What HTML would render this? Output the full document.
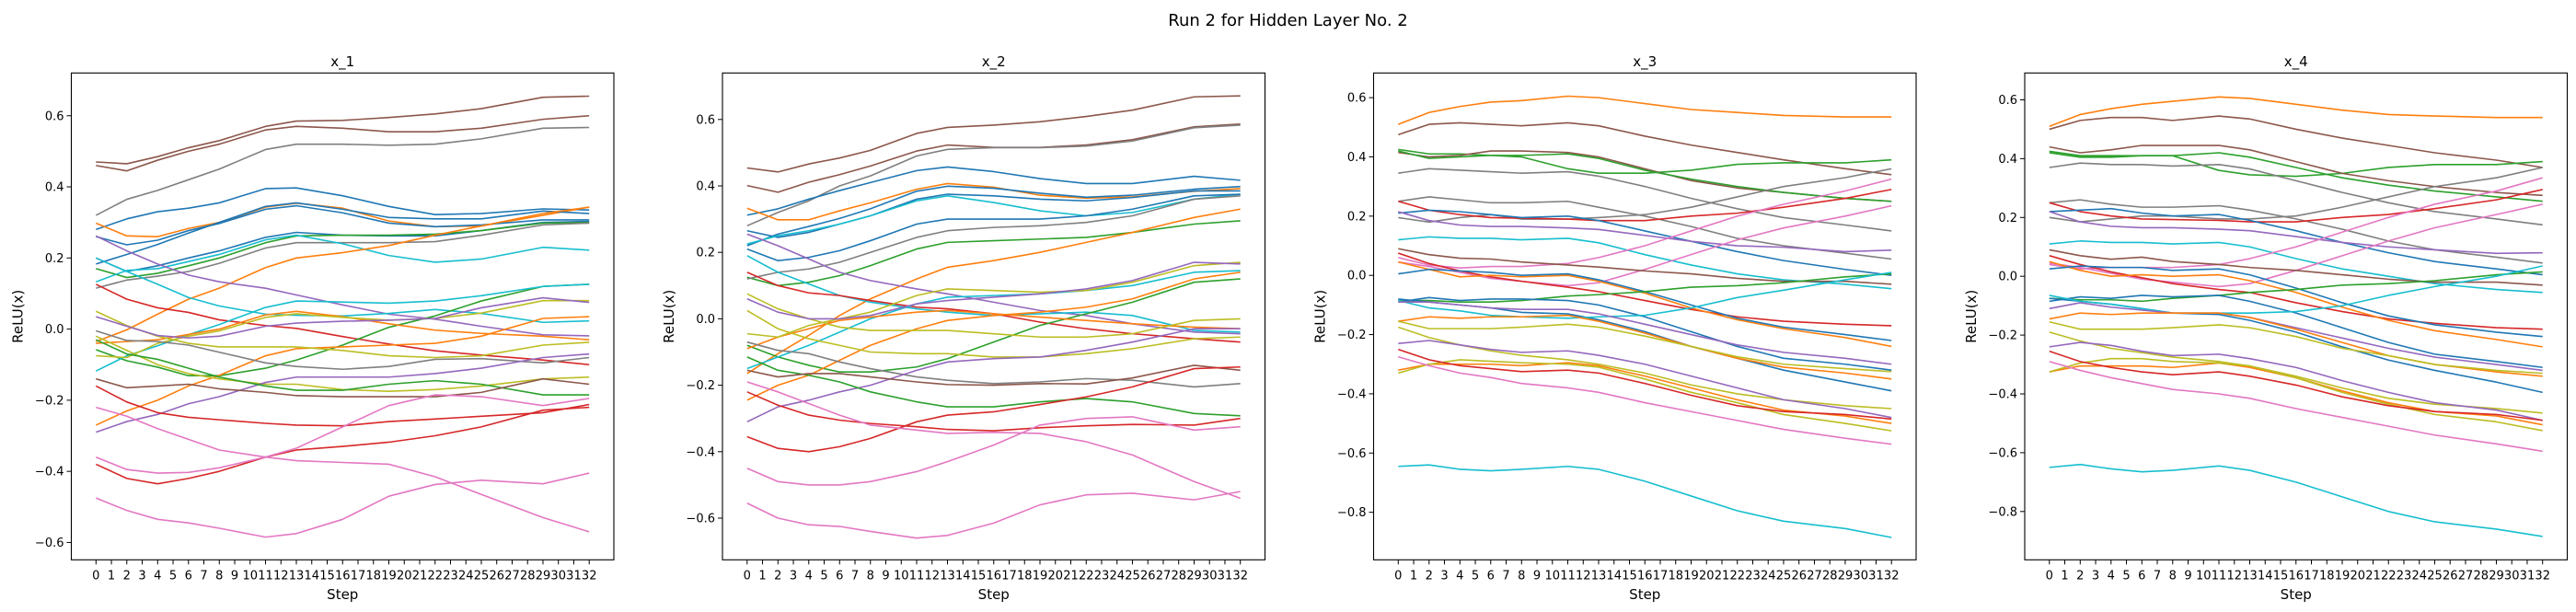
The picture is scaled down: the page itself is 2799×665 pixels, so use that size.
<!DOCTYPE html>
<html><head><meta charset="utf-8">
<style>
html,body{margin:0;padding:0;background:#fff;}
svg{display:block;font-family:"DejaVu Sans","Liberation Sans",sans-serif;}
</style></head>
<body>
<svg id="fig" width="2799" height="665" viewBox="0 0 2799 665" xmlns="http://www.w3.org/2000/svg">
<rect width="2799" height="665" fill="#fff"/>
<text x="1399.5" y="28" font-size="18" text-anchor="middle" fill="#000">Run 2 for Hidden Layer No. 2</text>
</svg>
<script>
const steps = [0,2,4,6,8,11,13,16,19,22,25,29,32];
const tickSteps = Array.from({length:33},(_,i)=>i);
const panelTitles = ["x_1","x_2","x_3","x_4"];
const yTicksA = [-0.6,-0.4,-0.2,0.0,0.2,0.4,0.6];
const yTicksB = [-0.8,-0.6,-0.4,-0.2,0.0,0.2,0.4,0.6];

const p1Colors = ["#8c564b","#8c564b","#7f7f7f","#1f77b4","#ff7f0e","#1f77b4","#1f77b4","#1f77b4","#2ca02c","#7f7f7f","#17becf","#ff7f0e","#9467bd","#17becf","#d62728","#2ca02c","#17becf","#ff7f0e","#ff7f0e","#bcbd22","#bcbd22","#bcbd22","#7f7f7f","#9467bd","#9467bd","#2ca02c","#8c564b","#d62728","#d62728","#e377c2","#e377c2","#e377c2"];
const p1Values = [
[.47,.465,.485,.51,.53,.57,.585,.587,.595,.605,.62,.652,.655],
[.46,.445,.475,.5,.52,.56,.57,.565,.555,.555,.565,.59,.60],
[.32,.365,.39,.42,.45,.505,.52,.52,.517,.52,.535,.565,.567],
[.28,.31,.33,.34,.355,.395,.397,.375,.345,.322,.325,.338,.335],
[.298,.262,.26,.283,.30,.343,.354,.34,.304,.288,.29,.32,.343],
[.183,.21,.238,.27,.30,.345,.355,.337,.314,.31,.31,.332,.325],
[.26,.237,.25,.277,.297,.337,.347,.327,.298,.288,.293,.307,.307],
[.2,.162,.178,.2,.22,.258,.272,.264,.262,.262,.277,.3,.303],
[.17,.145,.157,.178,.2,.243,.262,.264,.264,.267,.277,.298,.3],
[.115,.138,.149,.162,.185,.228,.243,.243,.243,.246,.264,.293,.298],
[.133,.165,.17,.19,.21,.251,.264,.24,.207,.188,.197,.23,.222],
[-.035,-.002,.042,.084,.115,.173,.2,.215,.235,.264,.29,.325,.343],
[.262,.22,.183,.152,.133,.115,.096,.068,.042,.028,.008,-.016,-.019],
[.2,.162,.126,.089,.065,.042,.039,.037,.044,.055,.044,.019,.023],
[.126,.084,.06,.047,.026,.01,.002,-.021,-.042,-.061,-.073,-.087,-.1],
[-.058,-.089,-.107,-.131,-.131,-.11,-.087,-.045,.005,.037,.079,.12,.126],
[-.118,-.075,-.047,-.016,.013,.061,.079,.076,.073,.079,.094,.12,.126],
[-.27,-.23,-.2,-.16,-.13,-.075,-.055,-.05,-.045,-.04,-.02,.03,.035],
[-.04,-.035,-.03,-.015,0,.04,.05,.035,.015,-.003,-.012,-.02,-.03],
[.05,.01,-.02,-.04,-.05,-.05,-.05,-.06,-.075,-.08,-.075,-.045,-.037],
[-.075,-.08,-.04,-.02,-.005,.033,.043,.033,.025,.03,.045,.08,.08],
[-.02,-.06,-.1,-.125,-.14,-.155,-.155,-.17,-.175,-.17,-.16,-.14,-.135],
[-.005,-.032,-.035,-.045,-.065,-.095,-.105,-.113,-.105,-.085,-.083,-.095,-.08],
[.035,.008,-.018,-.025,-.02,.008,.017,.022,.025,.03,.06,.088,.075],
[-.29,-.26,-.24,-.21,-.19,-.15,-.135,-.135,-.135,-.125,-.11,-.08,-.07],
[-.03,-.07,-.085,-.11,-.135,-.16,-.172,-.172,-.155,-.145,-.155,-.185,-.185],
[-.14,-.165,-.16,-.155,-.168,-.178,-.187,-.19,-.19,-.19,-.178,-.14,-.155],
[-.16,-.205,-.235,-.248,-.255,-.265,-.27,-.272,-.26,-.253,-.245,-.235,-.212],
[-.38,-.42,-.435,-.42,-.4,-.36,-.34,-.33,-.318,-.3,-.275,-.228,-.22],
[-.22,-.245,-.28,-.31,-.34,-.36,-.37,-.375,-.38,-.415,-.465,-.53,-.57],
[-.36,-.395,-.405,-.403,-.39,-.36,-.335,-.275,-.215,-.185,-.19,-.215,-.195],
[-.475,-.51,-.535,-.545,-.56,-.585,-.575,-.535,-.47,-.437,-.425,-.435,-.405]
];

const p2Colors = ["#8c564b","#8c564b","#7f7f7f","#1f77b4","#ff7f0e","#1f77b4","#1f77b4","#17becf","#1f77b4","#2ca02c","#7f7f7f","#ff7f0e","#9467bd","#17becf","#d62728","#2ca02c","#17becf","#ff7f0e","#ff7f0e","#bcbd22","#bcbd22","#bcbd22","#7f7f7f","#9467bd","#9467bd","#2ca02c","#8c564b","#d62728","#d62728","#e377c2","#e377c2","#e377c2"];
const p2Values = [
[.454,.442,.466,.484,.507,.558,.576,.583,.593,.609,.628,.668,.671],
[.401,.381,.411,.434,.46,.505,.523,.516,.516,.523,.539,.578,.586],
[.28,.32,.355,.4,.43,.49,.51,.515,.515,.52,.535,.575,.583],
[.312,.331,.36,.386,.41,.446,.457,.443,.422,.407,.407,.429,.417],
[.333,.298,.298,.325,.349,.39,.407,.396,.372,.363,.367,.384,.392],
[.22,.255,.278,.302,.331,.384,.399,.393,.378,.366,.372,.39,.398],
[.265,.245,.26,.285,.31,.36,.375,.37,.36,.355,.365,.385,.385],
[.225,.25,.265,.285,.31,.355,.37,.35,.325,.31,.32,.36,.375],
[.21,.175,.185,.205,.235,.285,.3,.3,.3,.31,.33,.37,.375],
[.125,.1,.11,.13,.16,.21,.23,.235,.24,.245,.26,.285,.295],
[.12,.14,.15,.17,.2,.245,.265,.275,.28,.29,.31,.36,.37],
[-.165,-.105,-.05,.01,.06,.12,.155,.175,.2,.23,.26,.305,.33],
[.255,.22,.18,.14,.115,.09,.075,.05,.025,.01,-.015,-.04,-.045],
[.19,.14,.105,.07,.05,.03,.02,.01,.015,.02,.01,-.035,-.04],
[.14,.1,.078,.07,.055,.035,.03,.015,-.01,-.03,-.045,-.06,-.07],
[-.08,-.115,-.14,-.16,-.16,-.145,-.12,-.07,-.02,.015,.05,.11,.12],
[-.15,-.115,-.08,-.04,0,.045,.065,.07,.075,.085,.1,.14,.145],
[-.09,-.055,-.03,-.005,.005,.02,.025,.015,.005,-.005,-.015,-.025,-.03],
[-.245,-.2,-.17,-.125,-.08,-.03,-.005,.01,.02,.035,.06,.12,.14],
[.075,.03,0,-.025,-.035,-.035,-.035,-.045,-.055,-.055,-.045,-.005,0],
[-.045,-.055,-.02,0,.02,.07,.09,.085,.08,.085,.11,.16,.17],
[.025,-.03,-.06,-.08,-.1,-.105,-.105,-.115,-.115,-.105,-.09,-.06,-.055],
[-.07,-.095,-.105,-.13,-.15,-.175,-.185,-.195,-.19,-.18,-.185,-.205,-.195],
[.06,.02,0,0,.01,.045,.055,.065,.075,.09,.115,.17,.165],
[-.31,-.265,-.245,-.22,-.2,-.155,-.13,-.12,-.115,-.095,-.07,-.03,-.03],
[-.115,-.155,-.17,-.19,-.22,-.25,-.265,-.265,-.25,-.24,-.25,-.285,-.292],
[-.155,-.175,-.165,-.165,-.175,-.19,-.198,-.2,-.195,-.196,-.178,-.14,-.155],
[-.22,-.26,-.29,-.305,-.315,-.325,-.333,-.337,-.328,-.322,-.318,-.32,-.3],
[-.355,-.39,-.4,-.385,-.36,-.31,-.29,-.28,-.258,-.235,-.205,-.15,-.145],
[-.19,-.22,-.255,-.29,-.32,-.335,-.345,-.342,-.345,-.37,-.41,-.49,-.54],
[-.45,-.49,-.5,-.5,-.49,-.46,-.43,-.38,-.32,-.3,-.295,-.335,-.325],
[-.555,-.6,-.62,-.625,-.64,-.66,-.652,-.615,-.56,-.53,-.525,-.545,-.52]
];

const p3Colors = ["#ff7f0e","#8c564b","#2ca02c","#8c564b","#2ca02c","#7f7f7f","#7f7f7f","#7f7f7f","#d62728","#1f77b4","#9467bd","#17becf","#e377c2","#e377c2","#8c564b","#d62728","#ff7f0e","#1f77b4","#2ca02c","#1f77b4","#1f77b4","#17becf","#9467bd","#ff7f0e","#bcbd22","#bcbd22","#9467bd","#ff7f0e","#bcbd22","#d62728","#e377c2","#17becf"];
const p3Values = [
[.51,.55,.57,.585,.59,.605,.6,.58,.56,.55,.54,.535,.535],
[.475,.51,.515,.51,.505,.515,.505,.47,.44,.415,.39,.36,.34],
[.425,.41,.41,.405,.4,.36,.345,.345,.355,.375,.38,.38,.39],
[.415,.4,.405,.42,.42,.415,.4,.36,.32,.295,.28,.26,.25],
[.42,.395,.4,.405,.405,.41,.395,.355,.325,.3,.28,.26,.25],
[.345,.36,.355,.35,.345,.35,.335,.3,.26,.225,.195,.17,.15],
[.25,.265,.255,.245,.245,.25,.23,.2,.165,.125,.1,.075,.055],
[.195,.18,.195,.205,.19,.19,.195,.205,.23,.265,.3,.33,.36],
[.25,.22,.205,.195,.193,.19,.185,.185,.2,.21,.23,.26,.29],
[.21,.22,.215,.205,.195,.2,.185,.15,.115,.08,.05,.02,0],
[.215,.185,.17,.165,.165,.16,.155,.135,.115,.1,.095,.08,.085],
[.12,.13,.125,.125,.12,.125,.11,.07,.035,.005,-.015,-.03,-.045],
[.06,.035,.025,.03,.03,.04,.06,.1,.15,.2,.24,.285,.325],
[.045,.03,.01,-.01,-.02,-.035,-.025,.02,.07,.12,.16,.2,.235],
[.09,.07,.058,.055,.045,.035,.028,.015,.005,-.01,-.02,-.02,-.03],
[.075,.04,.015,-.005,-.02,-.04,-.055,-.085,-.115,-.14,-.155,-.165,-.17],
[.045,.02,-.005,0,-.005,0,-.02,-.06,-.11,-.15,-.18,-.21,-.24],
[.005,.02,.015,.01,0,.005,-.015,-.055,-.1,-.145,-.175,-.2,-.22],
[-.085,-.085,-.09,-.09,-.085,-.07,-.065,-.055,-.04,-.035,-.025,-.005,.005],
[-.09,-.075,-.085,-.08,-.08,-.085,-.1,-.14,-.19,-.24,-.28,-.3,-.32],
[-.08,-.09,-.1,-.11,-.125,-.13,-.15,-.19,-.24,-.28,-.32,-.36,-.39],
[-.085,-.11,-.12,-.135,-.14,-.145,-.14,-.135,-.11,-.075,-.05,-.015,.01],
[-.09,-.09,-.1,-.11,-.115,-.115,-.13,-.165,-.2,-.235,-.26,-.28,-.3],
[-.155,-.14,-.145,-.14,-.14,-.135,-.155,-.195,-.24,-.28,-.31,-.33,-.35],
[-.155,-.18,-.18,-.18,-.175,-.165,-.175,-.205,-.24,-.275,-.3,-.315,-.325],
[-.175,-.21,-.235,-.255,-.27,-.285,-.3,-.33,-.37,-.4,-.42,-.44,-.45],
[-.23,-.22,-.235,-.25,-.26,-.255,-.27,-.3,-.34,-.38,-.42,-.45,-.48],
[-.32,-.3,-.3,-.3,-.305,-.295,-.305,-.34,-.38,-.42,-.455,-.475,-.5],
[-.33,-.3,-.285,-.29,-.295,-.3,-.31,-.35,-.395,-.43,-.47,-.5,-.525],
[-.25,-.285,-.305,-.315,-.325,-.32,-.33,-.365,-.405,-.44,-.46,-.47,-.485],
[-.275,-.305,-.33,-.345,-.365,-.38,-.395,-.43,-.46,-.49,-.52,-.55,-.57],
[-.645,-.64,-.655,-.66,-.655,-.645,-.655,-.695,-.745,-.795,-.83,-.855,-.885]
];

const p4Colors = p3Colors;
const p4Values = [
[.51,.55,.57,.585,.595,.61,.605,.585,.565,.55,.545,.54,.54],
[.5,.53,.54,.54,.53,.545,.535,.5,.47,.445,.42,.395,.37],
[.425,.41,.41,.41,.41,.36,.345,.34,.35,.37,.38,.38,.39],
[.44,.42,.43,.445,.445,.445,.43,.39,.35,.325,.305,.285,.275],
[.42,.405,.405,.41,.41,.42,.405,.37,.335,.31,.29,.27,.255],
[.37,.385,.38,.38,.375,.38,.365,.325,.285,.25,.22,.195,.175],
[.25,.26,.245,.235,.235,.24,.225,.195,.16,.12,.09,.065,.045],
[.2,.185,.195,.205,.205,.195,.195,.205,.235,.27,.305,.335,.37],
[.25,.22,.205,.195,.193,.19,.185,.185,.2,.21,.23,.26,.295],
[.22,.225,.23,.215,.205,.21,.19,.155,.115,.08,.05,.025,.005],
[.22,.185,.17,.165,.165,.16,.155,.135,.115,.1,.09,.078,.08],
[.11,.12,.115,.115,.11,.115,.1,.06,.025,0,-.025,-.045,-.055],
[.04,.025,.03,.03,.03,.04,.06,.1,.15,.2,.245,.29,.335],
[.045,.03,.01,-.01,-.02,-.035,-.025,.02,.07,.12,.165,.21,.245],
[.09,.07,.058,.065,.05,.04,.03,.02,.005,-.01,-.02,-.02,-.03],
[.07,.04,.015,-.005,-.025,-.045,-.055,-.09,-.12,-.145,-.16,-.175,-.18],
[.05,.02,0,.005,0,.005,-.015,-.055,-.105,-.15,-.185,-.215,-.24],
[.025,.035,.03,.03,.02,.025,.005,-.04,-.09,-.135,-.165,-.19,-.205],
[-.075,-.08,-.08,-.085,-.075,-.065,-.055,-.045,-.03,-.025,-.015,.005,.015],
[-.085,-.07,-.075,-.065,-.07,-.065,-.085,-.125,-.175,-.225,-.265,-.29,-.31],
[-.075,-.085,-.095,-.11,-.125,-.13,-.15,-.19,-.24,-.285,-.32,-.36,-.395],
[-.065,-.085,-.095,-.11,-.125,-.125,-.125,-.12,-.1,-.065,-.035,0,.035],
[-.11,-.09,-.105,-.115,-.125,-.125,-.14,-.175,-.21,-.245,-.275,-.3,-.32],
[-.145,-.125,-.13,-.125,-.125,-.125,-.14,-.18,-.225,-.27,-.3,-.325,-.34],
[-.155,-.18,-.18,-.18,-.175,-.165,-.175,-.205,-.245,-.27,-.3,-.32,-.33],
[-.19,-.22,-.245,-.26,-.275,-.29,-.305,-.34,-.38,-.415,-.435,-.45,-.465],
[-.24,-.225,-.235,-.255,-.27,-.265,-.28,-.31,-.355,-.395,-.43,-.455,-.49],
[-.325,-.305,-.305,-.305,-.31,-.295,-.31,-.345,-.39,-.43,-.46,-.475,-.505],
[-.325,-.295,-.28,-.28,-.29,-.295,-.305,-.345,-.395,-.435,-.47,-.495,-.525],
[-.255,-.29,-.31,-.325,-.335,-.325,-.34,-.37,-.41,-.44,-.46,-.47,-.49],
[-.29,-.32,-.345,-.365,-.385,-.4,-.415,-.45,-.48,-.51,-.54,-.57,-.595],
[-.65,-.64,-.655,-.665,-.66,-.645,-.66,-.7,-.75,-.8,-.835,-.86,-.885]
];

const NS = "http://www.w3.org/2000/svg";
const svg = document.getElementById('fig');
const panels = [
  {left:77.5, zeroY:357.6, pxPer:386.4, ticks:yTicksA, colors:p1Colors, values:p1Values},
  {left:785,  zeroY:346.4, pxPer:361.0, ticks:yTicksA, colors:p2Colors, values:p2Values},
  {left:1492.5, zeroY:299.2, pxPer:321.8, ticks:yTicksB, colors:p3Colors, values:p3Values},
  {left:2200, zeroY:300.2, pxPer:319.5, ticks:yTicksB, colors:p4Colors, values:p4Values}
];
const TOP = 79.3, BOTTOM = 608.3, W = 589.5;
function mk(tag, attrs, parent){
  const e = document.createElementNS(NS, tag);
  for (const k in attrs) e.setAttribute(k, attrs[k]);
  (parent||svg).appendChild(e);
  return e;
}
function fmt(v){ return (v<0?"\u2212":"") + Math.abs(v).toFixed(1); }

panels.forEach((p, pi) => {
  const g = mk('g', {});
  
  
  const pxStep = W / 35.2;
  const xScale = s => p.left + (s + 1.6) * pxStep;
  const yScale = v => p.zeroY - v * p.pxPer;

  // series
  p.values.forEach((vals, si) => {
    const pts = vals.map((v, i) => xScale(steps[i]).toFixed(2) + ',' + yScale(v).toFixed(2)).join(' ');
    const pl = mk('polyline', {points: pts, fill: 'none', stroke: p.colors[si], 'stroke-width': 1.6, 'stroke-linejoin': 'round'}, g);
    
    
  });

  // frame
  const fr = mk('rect', {x: p.left, y: TOP, width: W, height: BOTTOM - TOP, fill: 'none', stroke: '#000', 'stroke-width': 1.1}, g);
  
  

  // x ticks
  tickSteps.forEach(s => {
    const x = xScale(s);
    mk('line', {x1: x, x2: x, y1: BOTTOM, y2: BOTTOM + 5, stroke: '#000', 'stroke-width': 1}, g);
    const t = mk('text', {x: x, y: BOTTOM + 21, 'font-size': 13, 'text-anchor': 'middle', fill: '#000'}, g);
    t.textContent = String(s);
    
    
  });
  // y ticks
  p.ticks.forEach(v => {
    const y = yScale(v);
    mk('line', {x1: p.left - 5, x2: p.left, y1: y, y2: y, stroke: '#000', 'stroke-width': 1}, g);
    const t = mk('text', {x: p.left - 8, y: y + 4.5, 'font-size': 13, 'text-anchor': 'end', fill: '#000'}, g);
    t.textContent = fmt(v);
    
    
  });
  // titles
  const tt = mk('text', {x: p.left + W / 2, y: 72, 'font-size': 15, 'text-anchor': 'middle', fill: '#000'}, g);
  tt.textContent = panelTitles[pi];
  
  
  const xl = mk('text', {x: p.left + W / 2, y: 651, 'font-size': 15, 'text-anchor': 'middle', fill: '#000'}, g);
  xl.textContent = 'Step';
  
  
  const yx = p.left - 53, yy = (TOP + BOTTOM) / 2;
  const yl = mk('text', {x: yx, y: yy, 'font-size': 15, 'text-anchor': 'middle', fill: '#000', transform: 'rotate(-90 ' + yx + ' ' + yy + ')'}, g);
  yl.textContent = 'ReLU(x)';
  
  
});
</script>
</body></html>
